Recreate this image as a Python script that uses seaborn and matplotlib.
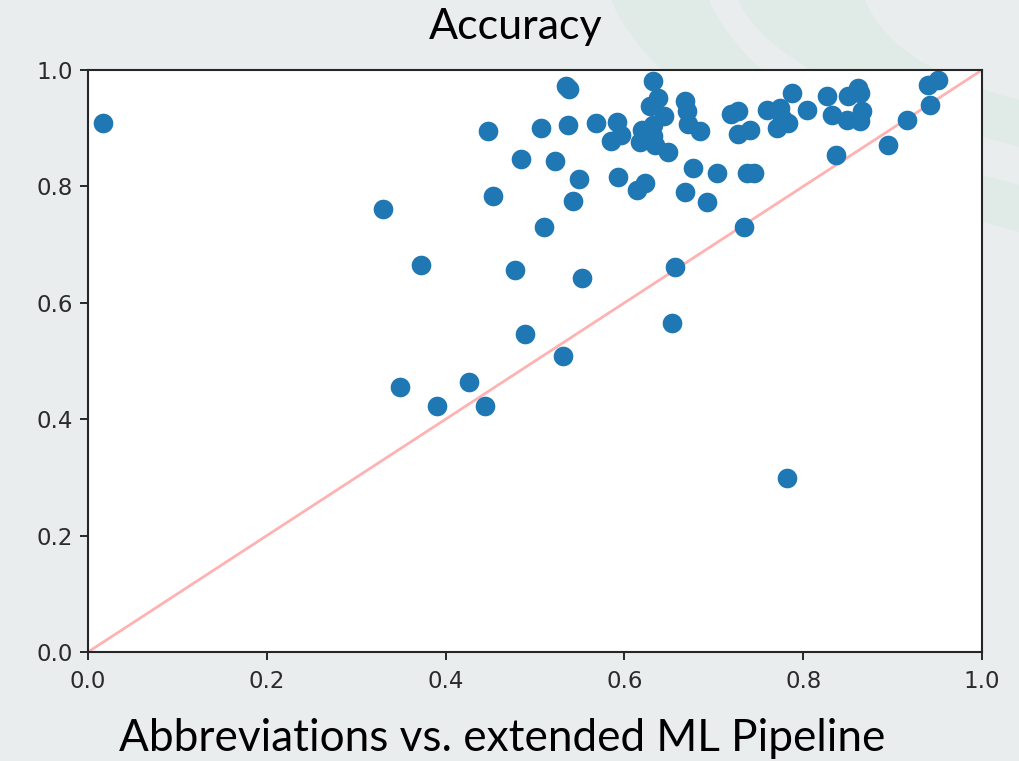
import numpy as np
import pandas as pd
import matplotlib
matplotlib.use("Agg")
import matplotlib.pyplot as plt
import seaborn as sns
from matplotlib.path import Path
from matplotlib.patches import PathPatch

# ---- data ----
abbrev = [0.017, 0.330, 0.372, 0.349, 0.390, 0.426, 0.444, 0.447, 0.453, 0.478,
          0.484, 0.489, 0.507, 0.510, 0.522, 0.531, 0.535, 0.538, 0.537, 0.543,
          0.549, 0.553, 0.568, 0.592, 0.585, 0.596, 0.593, 0.614, 0.623, 0.632,
          0.638, 0.629, 0.644, 0.620, 0.617, 0.632, 0.632, 0.634, 0.649, 0.668,
          0.670, 0.671, 0.685, 0.657, 0.653, 0.668, 0.677, 0.692, 0.704, 0.719,
          0.727, 0.727, 0.740, 0.734, 0.737, 0.745, 0.760, 0.774, 0.776, 0.771,
          0.783, 0.787, 0.804, 0.782, 0.827, 0.832, 0.837, 0.849, 0.850, 0.861,
          0.864, 0.866, 0.864, 0.895, 0.916, 0.942, 0.940, 0.951]
extended = [0.909, 0.761, 0.665, 0.455, 0.423, 0.464, 0.423, 0.895, 0.784, 0.656,
            0.847, 0.546, 0.900, 0.730, 0.844, 0.509, 0.973, 0.967, 0.905, 0.775,
            0.813, 0.643, 0.909, 0.911, 0.878, 0.888, 0.816, 0.794, 0.806, 0.981,
            0.952, 0.938, 0.921, 0.897, 0.876, 0.887, 0.905, 0.871, 0.859, 0.947,
            0.930, 0.907, 0.895, 0.662, 0.565, 0.790, 0.832, 0.773, 0.823, 0.924,
            0.930, 0.890, 0.897, 0.730, 0.823, 0.823, 0.931, 0.935, 0.918, 0.900,
            0.909, 0.960, 0.931, 0.299, 0.955, 0.923, 0.854, 0.914, 0.955, 0.969,
            0.960, 0.930, 0.912, 0.871, 0.914, 0.940, 0.974, 0.983]
diag = [0.0, 1.0]
ticks = [0.0, 0.2, 0.4, 0.6, 0.8, 1.0]
tick_labels = ["0.0", "0.2", "0.4", "0.6", "0.8", "1.0"]
title_text = "Accuracy"
xlabel_text = "Abbreviations vs. extended ML Pipeline"

df = pd.DataFrame({"abbrev": abbrev, "extended": extended})

sns.set_style("ticks")
plt.rcParams["font.family"] = ["DejaVu Sans"]

W, H = 1020, 761
fig = plt.figure(figsize=(W / 100, H / 100), dpi=100)
BG = "#e9eded"
fig.patch.set_facecolor(BG)

# ---- faint decorative bands of the slide background ----
def band(p0o, c_o, p1o, p0i, c_i, p1i, color):
    def f(p):
        return (p[0] / W, 1 - p[1] / H)
    verts = [f(p0o), f(c_o), f(p1o), f(p1i), f(c_i), f(p0i), f(p0o)]
    codes = [Path.MOVETO, Path.CURVE3, Path.CURVE3, Path.LINETO,
             Path.CURVE3, Path.CURVE3, Path.CLOSEPOLY]
    patch = PathPatch(Path(verts, codes), facecolor=color, edgecolor="none",
                      transform=fig.transFigure, zorder=0)
    fig.add_artist(patch)

band((611, 0), (673, 143), (1020, 232), (709, 0), (761, 120), (1020, 185), "#e0ebe8")
band((738, 0), (774, 83), (1020, 147), (865, 0), (894, 69), (1020, 100), "#e0ebe8")

ax = fig.add_axes([88 / W, 1 - 652 / H, 894 / W, 582 / H])
ax.set_facecolor("white")

sns.lineplot(x=diag, y=diag, ax=ax, color="red", alpha=0.3, linewidth=2.0, zorder=1)
sns.scatterplot(data=df, x="abbrev", y="extended", ax=ax, color="#1f77b4",
                s=200, linewidth=0, zorder=2)

ax.set_xlim(0, 1)
ax.set_ylim(0, 1)
ax.set_xticks(ticks)
ax.set_xticklabels(tick_labels)
ax.set_yticks(ticks)
ax.set_yticklabels(tick_labels)
ax.set_xlabel("")
ax.set_ylabel("")
ax.tick_params(axis="both", labelsize=16.5, length=6, width=1.4, pad=5,
               colors="#262626", labelcolor="#2b2b2b")
ax.tick_params(axis="x", pad=7)
for sp in ax.spines.values():
    sp.set_visible(True)
    sp.set_linewidth(1.5)
    sp.set_color("#262626")

# ---- title and axis caption in slide font, sized to match widths ----
def fitted_text(s, xc, ybase, target_w, family):
    t = fig.text(xc / W, 1 - ybase / H, s, ha="center", va="baseline",
                 fontsize=30, family=family, color="black")
    fig.canvas.draw()
    w = t.get_window_extent().width
    t.set_fontsize(30 * target_w / w)
    return t

fitted_text(title_text, 516, 39, 174, ["Lato", "DejaVu Sans"])
fitted_text(xlabel_text, 502, 751, 765, ["Lato", "DejaVu Sans"])

fig.savefig("out.png", dpi=100, facecolor=BG)
